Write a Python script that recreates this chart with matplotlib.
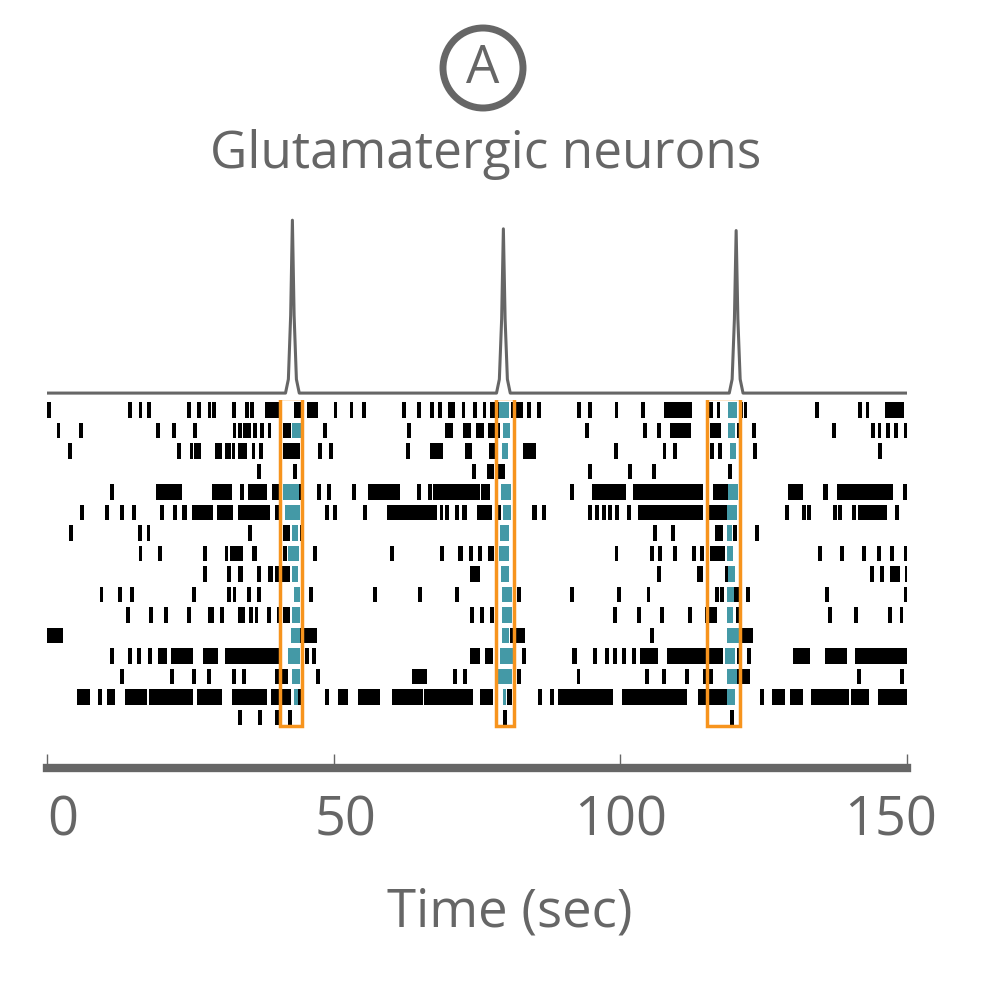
import matplotlib
matplotlib.use('Agg')
import matplotlib.pyplot as plt
import matplotlib.transforms as mtransforms
from matplotlib.patches import Rectangle, Circle

plt.rcParams['font.family'] = ['Open Sans', 'DejaVu Sans']

GRAY = '#666666'
TEAL = '#4499a6'
ORANGE = '#f7941d'
SPIKE_W = 0.65  # width of a single spike, s

# spike trains per neuron (top to bottom); number = single spike, tuple = burst (start, end) in s
rows = [
    [0, 14.2, 16, 17.5, 24.5, 26.2, 28, 28.8, 32.3, 34.5, 35.4, (38, 40.5), (43, 44.6), (45.3, 47.2), 50, 52.8, 55, 62,
     64.6, 66.8, 68.2, (70, 71.2), 72.3, 74.3, 76, (77.3, 79), (81, 83), 83.8, 85.5, 92.5, 94.4, 99, 103.6,
     (107.6, 112.5), 115.5, 116.8, 120.7, 121.5, 134, 141.5, 142.8, (146.2, 149.5)],
    [1.7, 5.6, 19, 21.8, 25.5, 32.4, 33.3, 34.2, 34.9, 36, 37.2, 38.5, (41.2, 42.5), 48.1, 62.8, 69.4, 70.1, (72.6, 74),
     74.8, 75.6, 77, 77.7, 78.3, 93.9, 104, 106.4, (108.6, 112.4), (115.6, 117.6), 120.4, 123, 137, 143.7, 144.9,
     146.3, 147.7, 149.5],
    [3.7, 22.7, 24.9, 25.6, 26.2, (29.3, 30.5), 31, 31.5, 32.2, (33.3, 34.8), 35.7, 37, (41.2, 44.2), 47.3, 49.2, 62.6,
     (66.8, 69), 72.9, 73.4, (77.1, 78.2), (83, 85.3), 98.9, 107.4, 109.2, 115.6, 117, 123.2, 145],
    [36.6, 42.9, 74.1, (76.7, 77.9), (78.7, 79.9), 94.4, 101.3, 105.5, 118.8],
    [11, (19, 23.5), (28.8, 32.3), 33.7, (35, 38.3), (39.3, 41), 44, 47.1, 48.8, 53.2, (56, 61.6), 64.5, 66.5, (67.3, 75.5),
     (75.7, 77.3), 91.2, (95, 101), (102.2, 114.4), (116.2, 118.7), (129.2, 131.9), (135.3, 136.2), (137.8, 147.6),
     149.3],
    [5.8, 10.1, 12.7, 14.8, 19.7, 22, (23.5, 24.4), (25.3, 29), (29.7, 32.5), (33.3, 38.9), 39.8, 48.5, 49.9, 55.1,
     (59.3, 68), 68.5, 69.4, 71.2, (72.4, 73.3), (75, 77.6), 78.5, (84.6, 85.5), 86.4, 94.4, 95.6, 96.8, 97.9, 99.1,
     101.2, (103, 114.5), (115.3, 118.6), 128.7, 131.7, 132.6, 137.1, 138, 140.4, (141.5, 146.5), 147.9],
    [3.8, 15.9, 17.4, 35.1, (41.2, 42.4), 44.1, 105.7, 108.8, 116.5, 117.2, (119.7, 120.4), 123.5],
    [16, 19.4, 27.2, 31, 31.9, (32.4, 34.2), (35.8, 36.6), (41.2, 41.9), 46.4, 59.8, 68.6, (71.7, 72.5), 73.6, 75.2,
     (77, 77.9), 99, 105.2, 106.6, 109.2, 112.5, 113.9, (115.6, 118.3), 134.5, 138.3, 142.2, 144.8, 147, 149.5],
    [27.2, 31.4, (33.3, 34.2), 36.6, (38.5, 39.4), 39.8, 40.6, (41.2, 42.4), (73.8, 75.5), 106.4, (113.4, 114.4), 118.3,
     143.6, 145.3, (147, 148.8), 149.7],
    [9.2, 12.4, 14.5, 25.3, 31.4, 32.4, 34.9, 36.6, 45.7, 56.9, 64.7, 71.2, (82, 82.7), 91.2, 99.4, 104.6, 116.5, 117.4,
     (119.8, 120.7), 122, 135.7, 149.4],
    [13.8, 17.8, 20.4, 24.4, (28.1, 29.2), 30.2, (33.3, 34.5), 35.2, 36.2, 38.4, 40.1, (41.2, 42.4), 73.8, 75.5, 77.3,
     98.7, 102.9, 106.9, 111.8, (114.8, 116.9), 120.2, 136.3, 140.8, 146.7, 148.7],
    [(0, 2.8), (44.1, 47.1), (80.8, 83.4), 105.2, (121.2, 123.1)],
    [11, 14.1, 15.7, 17.6, (19.4, 21), (21.6, 25.5), (27.2, 29.8), (31, 40.6), 45, 46.2, (73.8, 75.5), (76.4, 77.8), 82.9,
     (91.6, 92.5), 95.2, 97.3, 98.7, 100.3, 102, (103.4, 106.6), (108.2, 117.9), 120.4, 122.1, (130.1, 133.1),
     (135.7, 139.5), (141, 150)],
    [12.7, 21.5, 25.3, 27.9, 32.3, 34, (39.8, 42), 46.9, (63.7, 66.3), 70.8, 72.6, 82, 92.4, 104.3, 107.3, 111.3,
     (114.4, 116.2), (120.4, 122.7), 141.3, 148.8],
    [(5.2, 7.5), 8.9, (10.5, 11.9), (13.6, 17.4), (17.8, 25.5), (26.2, 30.5), (32.3, 38.4), (39, 42.6), 43.8, 48.5,
     (50.7, 52.5), (54.2, 58.1), (60.2, 65.6), (65.8, 74.3), (75.5, 77.8), (80.2, 81.1), 85.6, 87.7, (89.1, 98.7),
     (100.3, 111.6), (113.5, 118.6), 124.4, (126.5, 128.8), (129.6, 131.9), (133.3, 139.9), (140.3, 143.4),
     (145, 150)],
    [33.3, 36.8, 39.8, 42, 79.5, 119.1],
]

# spikes during the population events (highlighted), per row: (start, end) in s
teal = [
    [(78.9, 80.6), (118.8, 120.3)],
    [(42.8, 44.3), (79.5, 80.8), (118.8, 120)],
    [(79.4, 80.4), (119.2, 120.2)],
    [],
    [(41.2, 44), (79.2, 80.9), (118.7, 120.5)],
    [(41.5, 44.2), (79.6, 81), (118.6, 120.4)],
    [(42.8, 43.8), (79, 80.6), (118.6, 119.5)],
    [(42, 44), (78.9, 80.6), (118.6, 119.6)],
    [(42.7, 43.8), (79.2, 80.6), (118.8, 120)],
    [(43.1, 44.1), (79.4, 81.1), (118.6, 119.8)],
    [(42.7, 44.1), (79.4, 81.1), (118.6, 119.6)],
    [(42.6, 44.1), (79.4, 80.6), (118.6, 121.2)],
    [(42, 44.1), (79, 81.2), (118.3, 120)],
    [(42.7, 44.1), (78.5, 81.1), (118.6, 120.4)],
    [(43, 43.8), (79.5, 80.1), (118.6, 120)],
    [],
]

# population event windows (orange boxes), s
windows = [(40.6, 44.5), (78.3, 81.5), (115.1, 120.9)]

# summed activity trace (arbitrary units)
trace_t = [0, 20, 41.6, 42.1, 42.5, 42.8, 43.1, 43.5, 44.0, 60, 78.4, 78.9, 79.3, 79.6, 79.9, 80.3, 80.8,
           100, 119.0, 119.5, 119.9, 120.2, 120.5, 120.9, 121.4, 150]
trace_v = [0, 0, 0, 0.8, 4.5, 10, 4.5, 0.8, 0, 0, 0, 0.8, 4.3, 9.5, 4.3, 0.8, 0,
           0, 0, 0.8, 4.3, 9.4, 4.3, 0.8, 0, 0]

fig = plt.figure(figsize=(10, 10), dpi=100)

# trace
ax_t = fig.add_axes([0.047, 0.60, 0.86, 0.185])
ax_t.plot(trace_t, trace_v, color=GRAY, lw=2.2)
ax_t.set_xlim(0, 150)
ax_t.set_ylim(-0.4, 10.3)
ax_t.axis('off')

# raster
ax = fig.add_axes([0.047, 0.232, 0.86, 0.368])
for i, row in enumerate(rows):
    segs = []
    for s in row:
        if isinstance(s, tuple):
            segs.append((s[0], s[1] - s[0]))
        else:
            segs.append((s, SPIKE_W))
    ax.broken_barh(segs, (i - 0.38, 0.76), facecolors='black', edgecolors='none')
    tsegs = [(a, b - a) for a, b in teal[i]]
    if tsegs:
        ax.broken_barh(tsegs, (i - 0.38, 0.76), facecolors=TEAL, edgecolors='none')

for a, b in windows:
    ax.add_patch(Rectangle((a, -0.6), b - a, 16.0, fill=False, edgecolor=ORANGE, lw=2.5))

ax.set_xlim(0, 150)
ax.set_ylim(17.46, -0.49)
for sp in ['top', 'left', 'right']:
    ax.spines[sp].set_visible(False)
ax.spines['bottom'].set_color(GRAY)
ax.spines['bottom'].set_linewidth(6)
ax.set_yticks([])
ax.set_xticks([0, 50, 100, 150])
ax.set_xticklabels(['0', '50', '100', '150'])
ax.tick_params(axis='x', direction='in', length=10, width=1, colors=GRAY,
               labelsize=39, pad=18, labelcolor=GRAY)
labels = ax.get_xticklabels()
labels[0].set_ha('left')
shifts = [0, 12, 0, -16]  # pixel offsets of the tick labels
for lab, dx in zip(labels, shifts):
    lab.set_transform(lab.get_transform() + mtransforms.ScaledTranslation(dx / 100, 0, fig.dpi_scale_trans))
ax.set_xlabel('Time (sec)', fontsize=38, color=GRAY, labelpad=30)
ax.xaxis.set_label_coords(0.538, -0.32)

# panel label and title
fig.add_artist(Circle((0.483, 0.932), 0.04, transform=fig.transFigure, fill=False, edgecolor=GRAY, lw=5))
fig.text(0.483, 0.931, 'A', ha='center', va='center', fontsize=38, color=GRAY)
fig.text(0.486, 0.845, 'Glutamatergic neurons', ha='center', va='center', fontsize=37, color=GRAY)

plt.savefig('out.png', dpi=100)
